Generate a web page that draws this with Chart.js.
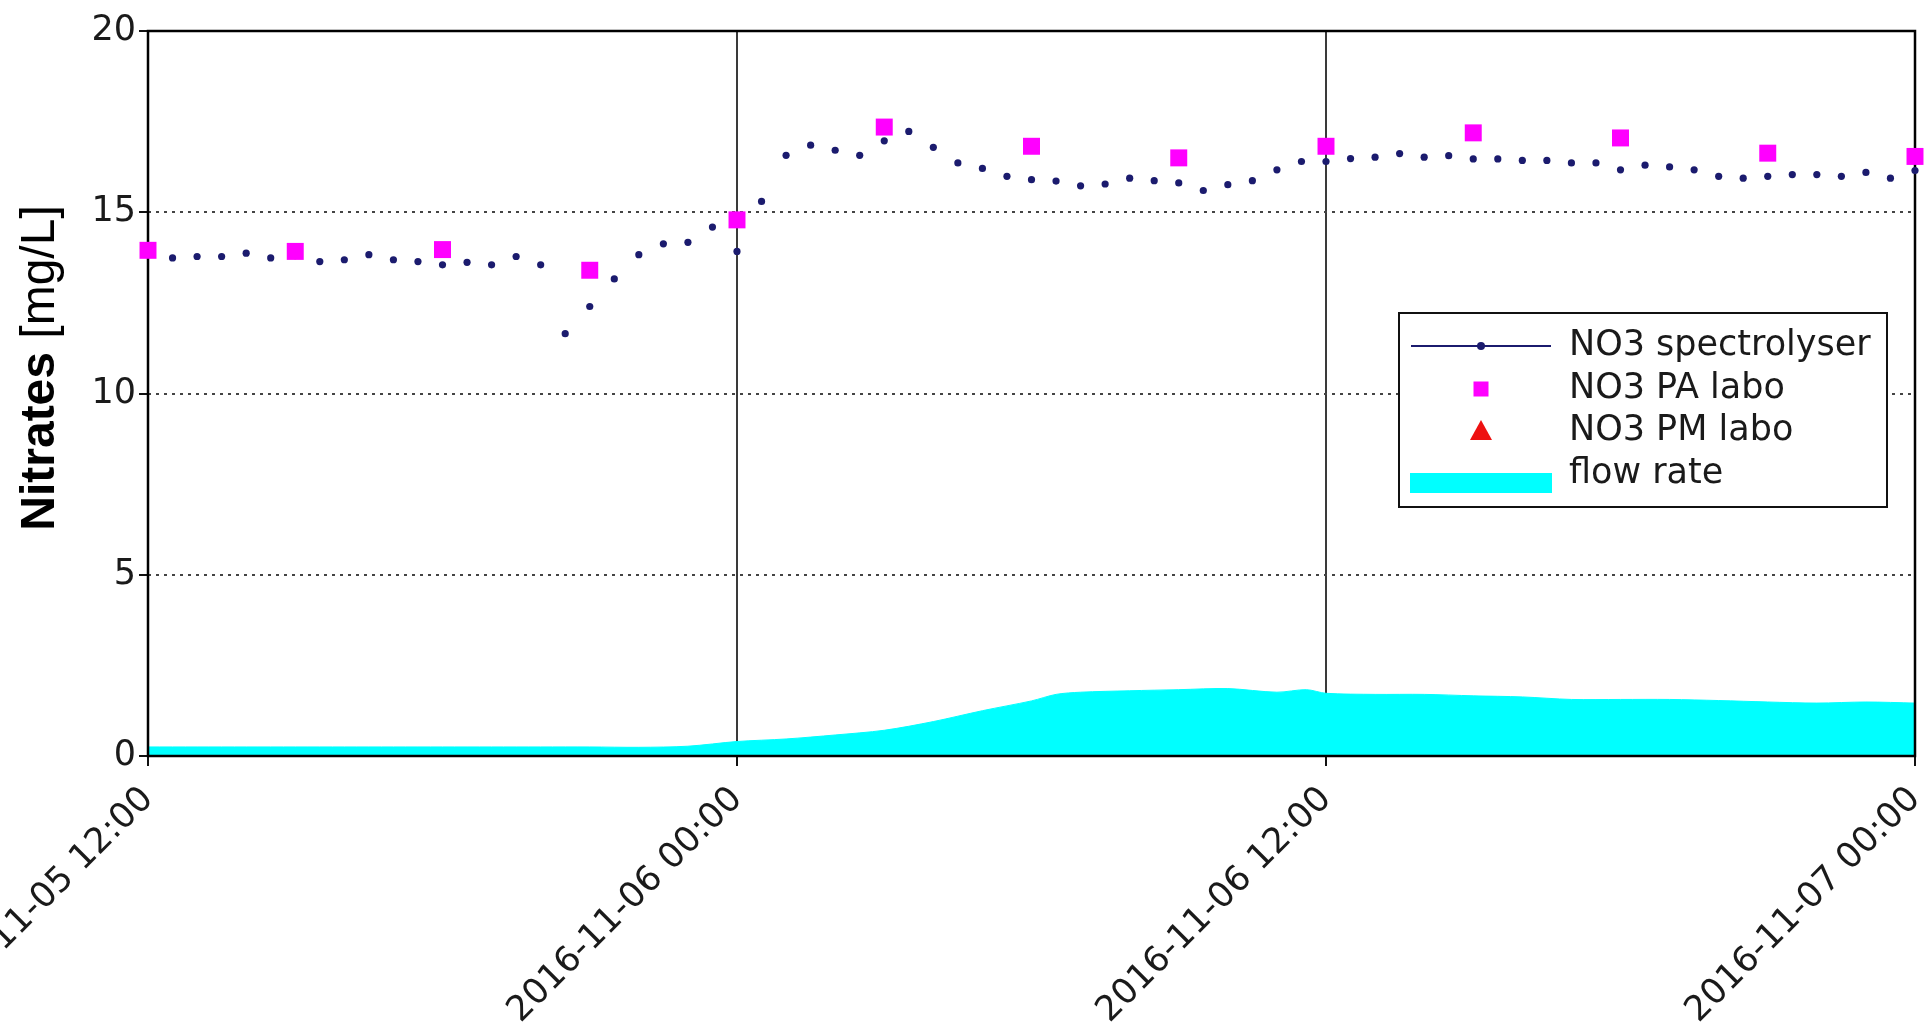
<!DOCTYPE html>
<html>
<head>
<meta charset="utf-8">
<script src="https://cdn.jsdelivr.net/npm/chart.js@4.4.1/dist/chart.umd.min.js"></script>
<style>
  html, body { margin: 0; padding: 0; background: #ffffff; overflow: hidden; }
  canvas { display: block; }
</style>
</head>
<body>
<canvas id="chart" width="1927" height="1030"></canvas>
<script>
// Time is expressed in hours since 2016-11-05 12:00.
const spectroHours = [
  0, 0.5, 1, 1.5, 2, 2.5, 3, 3.5, 4, 4.5, 5, 5.5, 6, 6.5, 7, 7.5, 8, 8.5, 9, 9.5,
  10, 10.5, 11, 11.5, 12, 12.5, 13, 13.5, 14, 14.5, 15, 15.5, 16, 16.5, 17, 17.5,
  18, 18.5, 19, 19.5, 20, 20.5, 21, 21.5, 22, 22.5, 23, 23.5, 24, 24.5, 25, 25.5,
  26, 26.5, 27, 27.5, 28, 28.5, 29, 29.5, 30, 30.5, 31, 31.5, 32, 32.5, 33, 33.5,
  34, 34.5, 35, 35.5, 36
];
const spectroNO3 = [
  13.85, 13.74, 13.78, 13.78, 13.87, 13.74, 13.80, 13.64, 13.69, 13.83, 13.69, 13.64,
  13.55, 13.62, 13.55, 13.78, 13.55, 11.65, 12.40, 13.16, 13.83, 14.13, 14.17, 14.59,
  13.92, 15.30, 16.57, 16.85, 16.71, 16.57, 16.97, 17.23, 16.79, 16.36, 16.21, 15.99,
  15.90, 15.86, 15.73, 15.78, 15.94, 15.87, 15.81, 15.60, 15.76, 15.87, 16.17, 16.40,
  16.40, 16.48, 16.52, 16.62, 16.52, 16.56, 16.47, 16.47, 16.43, 16.43, 16.36, 16.36,
  16.17, 16.30, 16.25, 16.17, 15.99, 15.94, 15.99, 16.04, 16.04, 15.99, 16.10, 15.94,
  16.15
];

const labHours = [0, 3, 6, 9, 12, 15, 18, 21, 24, 27, 30, 33, 36];
const labPA = [13.95, 13.92, 13.97, 13.40, 14.79, 17.35, 16.82, 16.50, 16.82, 17.19, 17.05, 16.63, 16.54];
const labPMHours = [];
const labPM = [];

const flowHours = [
  0, 1, 2, 3, 4, 5, 6, 7, 8, 9, 10, 11, 12, 13, 14, 15, 16, 17, 18, 18.5, 19, 20,
  21, 22, 23, 23.6, 24, 25, 26, 27, 28, 29, 30, 31, 32, 33, 34, 35, 36
];
const flowRate = [
  0.25, 0.25, 0.25, 0.25, 0.25, 0.25, 0.25, 0.25, 0.25, 0.25, 0.24, 0.27, 0.40, 0.47,
  0.58, 0.71, 0.95, 1.25, 1.52, 1.70, 1.76, 1.80, 1.83, 1.86, 1.76, 1.83, 1.73, 1.70,
  1.70, 1.66, 1.63, 1.56, 1.56, 1.56, 1.53, 1.49, 1.46, 1.49, 1.46
];

const tickHours = [0, 12, 24, 36];
const tickLabels = ['2016-11-05 12:00', '2016-11-06 00:00', '2016-11-06 12:00', '2016-11-07 00:00'];
const yTicks = [0, 5, 10, 15, 20];

const toPoints = (xs, ys) => xs.map((x, i) => ({ x: x, y: ys[i] }));

const TICK_FONT = { family: 'DejaVu Sans', size: 35 };
const NAVY = '#1b1b6e';
const MAGENTA = '#ff00ff';
const CYAN = '#00ffff';

// Plot frame, drawn over the flow area but under the markers.
const framePlugin = {
  id: 'frame',
  afterDatasetDraw(chart, args) {
    if (args.index !== 3) return;
    const { ctx, chartArea: a } = chart;
    ctx.save();
    ctx.strokeStyle = '#000000';
    ctx.lineWidth = 2.5;
    ctx.strokeRect(a.left, a.top, a.right - a.left, a.bottom - a.top);
    ctx.restore();
  }
};

// Y axis title with a bold and a regular part.
const yTitlePlugin = {
  id: 'yTitle',
  afterDraw(chart) {
    const ctx = chart.ctx;
    const boldPart = 'Nitrates';
    const plainPart = ' [mg/L]';
    const boldFont = 'bold 48px "Liberation Sans", Arial, sans-serif';
    const plainFont = '48px "Liberation Sans", Arial, sans-serif';
    ctx.save();
    ctx.font = boldFont;
    const wb = ctx.measureText(boldPart).width;
    ctx.font = plainFont;
    const wp = ctx.measureText(plainPart).width;
    ctx.translate(54, 368);
    ctx.rotate(-Math.PI / 2);
    ctx.fillStyle = '#000000';
    ctx.textBaseline = 'alphabetic';
    ctx.textAlign = 'left';
    const start = -(wb + wp) / 2;
    ctx.font = boldFont;
    ctx.fillText(boldPart, start, 0);
    ctx.font = plainFont;
    ctx.fillText(plainPart, start + wb, 0);
    ctx.restore();
  }
};

// Boxed legend inside the plot.
const legendPlugin = {
  id: 'boxLegend',
  afterDraw(chart) {
    const ctx = chart.ctx;
    const ds = chart.data.datasets;
    const box = { x: 1399, y: 313, w: 488, h: 194 };
    const handleX0 = 1411, handleX1 = 1551, handleCx = 1481, textX = 1569;
    const rows = [346, 389, 431, 474];
    ctx.save();
    ctx.fillStyle = '#ffffff';
    ctx.fillRect(box.x, box.y, box.w, box.h);
    ctx.strokeStyle = '#111111';
    ctx.lineWidth = 2;
    ctx.strokeRect(box.x, box.y, box.w, box.h);

    // spectrolyser: line with a dot
    ctx.strokeStyle = NAVY;
    ctx.lineWidth = 2;
    ctx.beginPath();
    ctx.moveTo(handleX0, rows[0]);
    ctx.lineTo(handleX1, rows[0]);
    ctx.stroke();
    ctx.fillStyle = NAVY;
    ctx.beginPath();
    ctx.arc(handleCx, rows[0], 4, 0, Math.PI * 2);
    ctx.fill();

    // PA labo: square
    ctx.fillStyle = MAGENTA;
    ctx.fillRect(handleCx - 7.5, rows[1] - 7.5, 15, 15);

    // PM labo: triangle
    ctx.fillStyle = '#ee1111';
    ctx.beginPath();
    ctx.moveTo(handleCx, rows[2] - 11);
    ctx.lineTo(handleCx + 11, rows[2] + 9);
    ctx.lineTo(handleCx - 11, rows[2] + 9);
    ctx.closePath();
    ctx.fill();

    // flow rate: filled patch
    ctx.fillStyle = CYAN;
    ctx.fillRect(handleX0 - 1, rows[3] - 1, handleX1 - handleX0 + 2, 20);

    ctx.fillStyle = '#1a1a1a';
    ctx.font = '35px "DejaVu Sans"';
    ctx.textBaseline = 'middle';
    ctx.textAlign = 'left';
    rows.forEach((y, i) => ctx.fillText(ds[i].label, textX, y));
    ctx.restore();
  }
};

new Chart(document.getElementById('chart'), {
  type: 'scatter',
  data: {
    datasets: [
      {
        label: 'NO3 spectrolyser',
        data: toPoints(spectroHours, spectroNO3),
        showLine: false,
        pointStyle: 'circle',
        pointRadius: 3.6,
        pointBorderWidth: 0,
        backgroundColor: NAVY,
        borderColor: NAVY,
        order: 1,
        clip: false
      },
      {
        label: 'NO3 PA labo',
        data: toPoints(labHours, labPA),
        showLine: false,
        pointStyle: 'rect',
        pointRadius: 12,
        pointBorderWidth: 0,
        backgroundColor: MAGENTA,
        borderColor: MAGENTA,
        order: 0,
        clip: false
      },
      {
        label: 'NO3 PM labo',
        data: toPoints(labPMHours, labPM),
        showLine: false,
        pointStyle: 'triangle',
        pointRadius: 10,
        backgroundColor: '#ee1111',
        borderColor: '#ee1111',
        order: 0,
        clip: false
      },
      {
        type: 'line',
        label: 'flow rate',
        data: toPoints(flowHours, flowRate),
        fill: 'origin',
        backgroundColor: CYAN,
        borderColor: CYAN,
        borderWidth: 1,
        pointRadius: 0,
        tension: 0.3,
        order: 3
      }
    ]
  },
  options: {
    responsive: false,
    animation: false,
    devicePixelRatio: 1,
    layout: { padding: { top: 31, right: 7, left: 0, bottom: 0 } },
    plugins: { legend: { display: false }, tooltip: { enabled: false } },
    scales: {
      x: {
        type: 'linear',
        min: 0,
        max: 36,
        afterBuildTicks: (s) => { s.ticks = tickHours.map(v => ({ value: v })); },
        afterFit: (s) => { s.height = 274; s.paddingLeft = 0; s.paddingRight = 0; },
        ticks: {
          callback: (v) => tickLabels[tickHours.indexOf(v)],
          minRotation: 45,
          maxRotation: 45,
          autoSkip: false,
          padding: 13,
          font: TICK_FONT,
          color: '#1a1a1a'
        },
        grid: {
          color: (c) => (c.tick && (c.tick.value === 0 || c.tick.value === 36)) ? 'rgba(0,0,0,0)' : '#3a3a3a',
          lineWidth: 2,
          tickLength: 10,
          tickColor: '#111111',
          tickWidth: 2
        },
        border: { display: false }
      },
      y: {
        min: 0,
        max: 20,
        afterBuildTicks: (s) => { s.ticks = yTicks.map(v => ({ value: v })); },
        afterFit: (s) => { s.width = 148; },
        ticks: {
          padding: 3,
          font: TICK_FONT,
          color: '#1a1a1a'
        },
        grid: {
          color: (c) => (c.tick && (c.tick.value === 0 || c.tick.value === 20)) ? 'rgba(0,0,0,0)' : '#444444',
          lineWidth: 2,
          tickLength: 9,
          tickColor: '#111111',
          tickWidth: 2,
          tickBorderDash: []
        },
        border: { display: false, dash: [3, 5] }
      }
    }
  },
  plugins: [framePlugin, yTitlePlugin, legendPlugin]
});
</script>
</body>
</html>
